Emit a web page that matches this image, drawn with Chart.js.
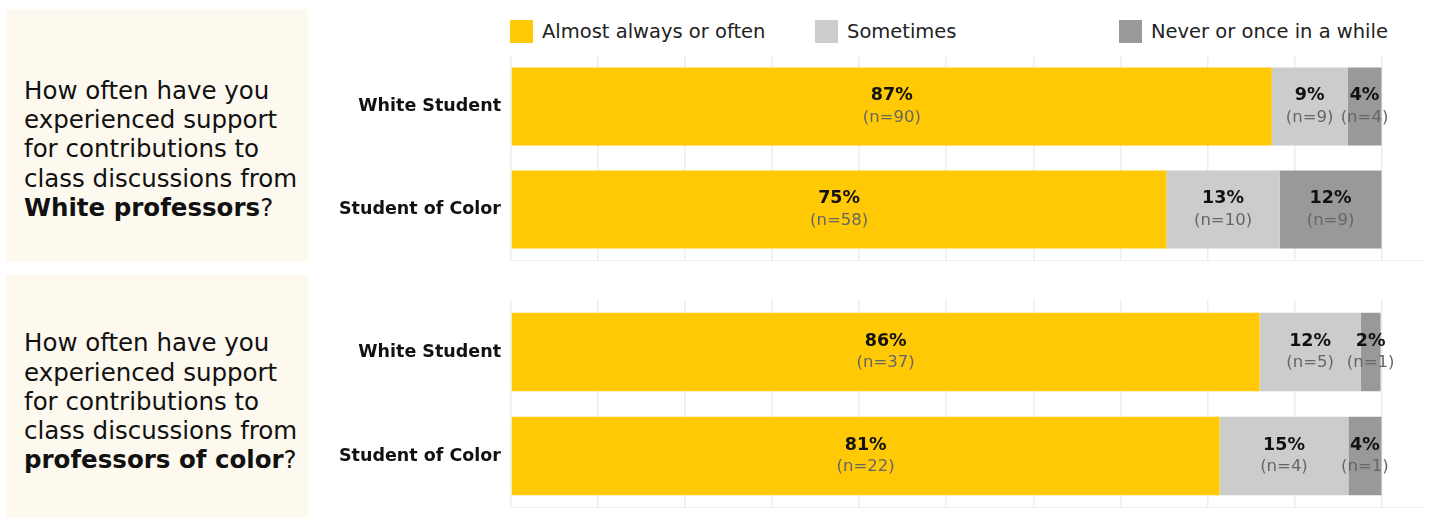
<!DOCTYPE html>
<html>
<head>
<meta charset="utf-8">
<script src="https://cdn.jsdelivr.net/npm/chart.js@4/dist/chart.umd.min.js"></script>
<style>
  html, body { margin:0; padding:0; background:#fff; }
  body { width:1432px; height:518px; position:relative; overflow:hidden; font-family:"DejaVu Sans", sans-serif; color:#111; }
  .qbox { position:absolute; left:6px; width:302px; background:#fdf9ef; display:flex; align-items:center; box-sizing:border-box; padding-left:18px; }
  .qbox p { margin:0; font-size:24.5px; line-height:29.3px; color:#111; }
  .qbox b { font-weight:bold; }
  .legend-item { position:absolute; top:20px; height:23px; display:flex; align-items:center; font-size:19.5px; color:#222; white-space:nowrap; }
  .legend-item span.sw { display:inline-block; width:23px; height:23px; margin-right:9px; }
  .panel { position:absolute; left:310px; width:1122px; }
</style>
</head>
<body>
<div class="qbox" style="top:9px;height:253px;padding-top:27px;"><p>How often have you experienced support for contributions to class discussions from <b>White professors</b>?</p></div>
<div class="qbox" style="top:275px;height:243px;padding-top:10px;"><p>How often have you experienced support for contributions to class discussions from <b>professors of color</b>?</p></div>
<div id="legend"></div>
<div class="panel" style="top:55px;height:206px;"><canvas id="c1"></canvas></div>
<div class="panel" style="top:300px;height:208px;"><canvas id="c2"></canvas></div>
<script>
// ---- data ----
const categories = ['White Student', 'Student of Color'];
const seriesNames = ['Almost always or often', 'Sometimes', 'Never or once in a while'];
const seriesColors = ['#FFCA05', '#CCCCCC', '#999999'];

// Panel 1: White professors (percent of respondents)
const whiteProfOften = [87.4, 75.3];
const whiteProfSometimes = [8.7, 13.0];
const whiteProfNever = [3.9, 11.7];
const whiteProfOftenN = [90, 58];
const whiteProfSometimesN = [9, 10];
const whiteProfNeverN = [4, 9];

// Panel 2: professors of color (percent of respondents)
const pocProfOften = [86.0, 81.4];
const pocProfSometimes = [11.6, 14.8];
const pocProfNever = [2.3, 3.8];
const pocProfOftenN = [37, 22];
const pocProfSometimesN = [5, 4];
const pocProfNeverN = [1, 1];

const xTickStep = 10;
const xMax = 105;

// ---- legend ----
const legendLefts = [510, 815, 1119];
const legendEl = document.getElementById('legend');
seriesNames.forEach((name, i) => {
  const d = document.createElement('div');
  d.className = 'legend-item';
  d.style.left = legendLefts[i] + 'px';
  d.innerHTML = '<span class="sw" style="background:' + seriesColors[i] + '"></span>' + name;
  legendEl.appendChild(d);
});

// ---- segment label plugin ----
const segLabels = {
  id: 'segLabels',
  afterDatasetsDraw(chart) {
    const ctx = chart.ctx;
    ctx.save();
    ctx.textAlign = 'center';
    ctx.textBaseline = 'middle';
    chart.data.datasets.forEach((ds, di) => {
      const meta = chart.getDatasetMeta(di);
      meta.data.forEach((bar, i) => {
        const cx = (bar.x + bar.base) / 2;
        const cy = bar.y;
        ctx.fillStyle = '#111';
        ctx.font = 'bold 17.5px "DejaVu Sans"';
        ctx.fillText(Math.round(ds.data[i]) + '%', cx, cy - 11);
        ctx.fillStyle = '#666';
        ctx.font = '16.5px "DejaVu Sans"';
        ctx.fillText('(n=' + ds.counts[i] + ')', cx, cy + 11);
      });
    });
    ctx.restore();
  }
};

function makeChart(id, vals, counts) {
  return new Chart(document.getElementById(id), {
    type: 'bar',
    data: {
      labels: categories,
      datasets: seriesNames.map((name, i) => ({
        label: name,
        data: vals[i],
        counts: counts[i],
        backgroundColor: seriesColors[i],
        borderWidth: 0,
        categoryPercentage: 0.757,
        barPercentage: 1.0
      }))
    },
    options: {
      indexAxis: 'y',
      responsive: true,
      maintainAspectRatio: false,
      animation: false,
      layout: { padding: { top: 0, right: 7, bottom: 0, left: 0 } },
      plugins: { legend: { display: false }, tooltip: { enabled: false } },
      scales: {
        x: {
          stacked: true,
          min: 0,
          max: xMax,
          ticks: { display: false, stepSize: xTickStep },
          grid: {
            drawTicks: false,
            lineWidth: 1.5,
            color: (c) => (c.tick && c.tick.value > 100) ? 'rgba(0,0,0,0)' : '#eeeeee'
          },
          border: { display: true, color: '#eeeeee', width: 1.5 },
          afterFit(scale) { scale.paddingLeft = 0; scale.paddingRight = 0; }
        },
        y: {
          stacked: true,
          grid: { display: false, drawTicks: false },
          border: { display: false },
          ticks: { padding: 10, color: '#111', font: { family: 'DejaVu Sans', size: 17.5, weight: 'bold' } },
          afterFit(scale) { scale.width = 201; scale.paddingTop = 0; scale.paddingBottom = 0; }
        }
      }
    },
    plugins: [segLabels]
  });
}

makeChart('c1', [whiteProfOften, whiteProfSometimes, whiteProfNever], [whiteProfOftenN, whiteProfSometimesN, whiteProfNeverN]);
makeChart('c2', [pocProfOften, pocProfSometimes, pocProfNever], [pocProfOftenN, pocProfSometimesN, pocProfNeverN]);
</script>
</body>
</html>
